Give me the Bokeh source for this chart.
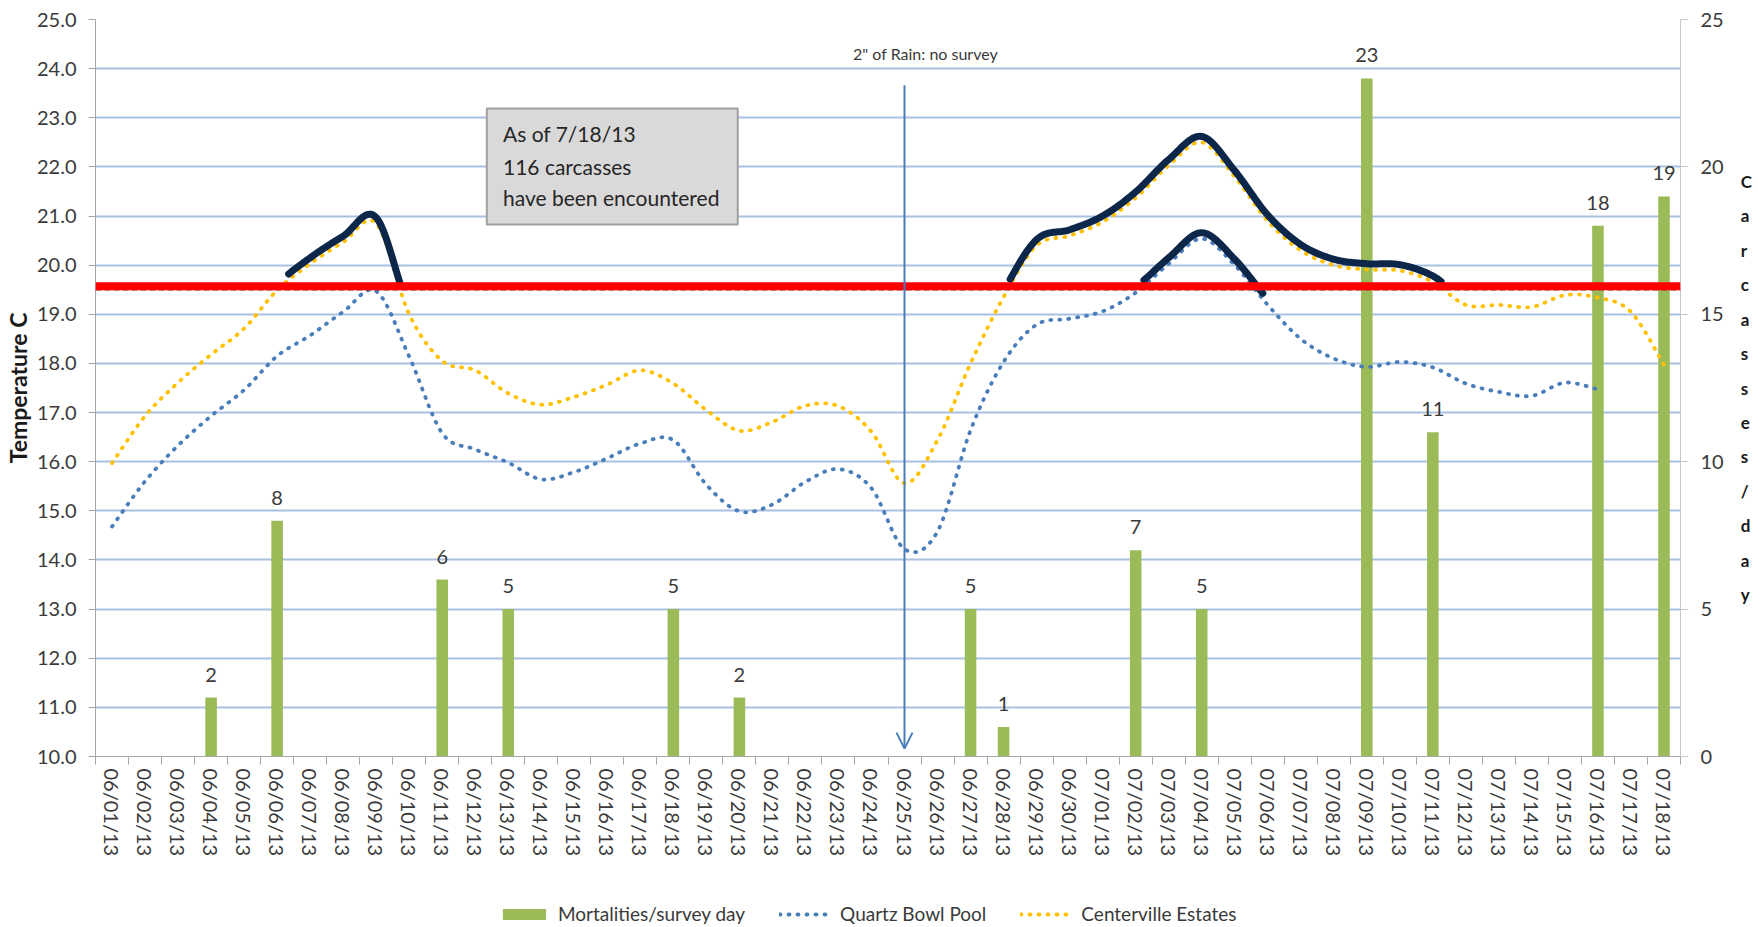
import math
from bokeh.plotting import figure
from bokeh.layouts import column
from bokeh.models import (Range1d, LinearAxis, FixedTicker, NumeralTickFormatter, Span,
                          Arrow, OpenHead, Legend, LegendItem, ColumnDataSource)
from bokeh.core.properties import value
from bokeh.embed import file_html
from bokeh.resources import INLINE

# ---- data -------------------------------------------------------------
dates = [
    "06/01/13", "06/02/13", "06/03/13", "06/04/13", "06/05/13", "06/06/13", "06/07/13", "06/08/13",
    "06/09/13", "06/10/13", "06/11/13", "06/12/13", "06/13/13", "06/14/13", "06/15/13", "06/16/13",
    "06/17/13", "06/18/13", "06/19/13", "06/20/13", "06/21/13", "06/22/13", "06/23/13", "06/24/13",
    "06/25/13", "06/26/13", "06/27/13", "06/28/13", "06/29/13", "06/30/13", "07/01/13", "07/02/13",
    "07/03/13", "07/04/13", "07/05/13", "07/06/13", "07/07/13", "07/08/13", "07/09/13", "07/10/13",
    "07/11/13", "07/12/13", "07/13/13", "07/14/13", "07/15/13", "07/16/13", "07/17/13", "07/18/13",
]

quartz_bowl_pool = [
    14.68, 15.60, 16.33, 16.93, 17.46, 18.15, 18.57, 19.05,
    19.47, 18.14, 16.58, 16.25, 15.98, 15.64, 15.79, 16.07,
    16.37, 16.44, 15.53, 14.99, 15.13, 15.59, 15.85, 15.46,
    14.22, 14.58, 16.64, 18.03, 18.79, 18.91, 19.06, 19.44,
    20.03, 20.54, 20.00, 19.19, 18.50, 18.10, 17.93, 18.03,
    17.92, 17.59, 17.42, 17.34, 17.61, 17.47, None, None,
]

centerville_estates = [
    15.97, 16.93, 17.61, 18.18, 18.71, 19.49, 20.03, 20.47,
    20.85, 19.00, 18.05, 17.86, 17.39, 17.16, 17.32, 17.57,
    17.86, 17.59, 17.05, 16.63, 16.81, 17.14, 17.13, 16.61,
    15.56, 16.44, 18.00, 19.35, 20.40, 20.60, 20.88, 21.37,
    22.03, 22.50, 21.80, 20.90, 20.30, 20.00, 19.91, 19.89,
    19.66, 19.19, 19.19, 19.15, 19.39, 19.34, 19.05, 17.97,
]

mortalities = [
    None, None, None, 2, None, 8, None, None,
    None, None, 6, None, 5, None, None, None,
    None, 5, None, 2, None, None, None, None,
    None, None, 5, 1, None, None, None, 7,
    None, 5, None, None, None, None, 23, None,
    11, None, None, None, None, 18, None, 19,
]

temp_ticks = [10.0, 11.0, 12.0, 13.0, 14.0, 15.0, 16.0, 17.0, 18.0, 19.0,
              20.0, 21.0, 22.0, 23.0, 24.0, 25.0]
count_ticks = [0, 5, 10, 15, 20, 25]

rain_day = "06/25/13"
rain_note = '2" of Rain: no survey'
note_lines = ["As of 7/18/13", "116 carcasses", "have been encountered"]
threshold_c = 19.5
marker_line_c = 19.57

# stretches of each series traced over with a heavy hand-drawn stroke (day index from/to)
highlight_spans = [
    ("centerville", 5.3, 8.75),
    ("centerville", 27.2, 40.25),
    ("quartz", 31.25, 34.9),
]

# ---- styling ----------------------------------------------------------
FONT = "Lato"
TXT = "#3a3a3a"
BLUE = "#4a7ebb"
GOLD = "#ffc000"
GREEN = "#9bbb59"
NAVY = "#0c2749"
GRID = "#a9c1e1"
AXIS = "#a6a6a6"
W = 1758
MAIN_H = 880
LEGEND_H = 47


def smooth_curve(xs, ys, steps=20):
    """Piecewise cubic Bezier through the points (Catmull-Rom style smoothing)."""
    n = len(xs)
    px, py = [], []
    for i in range(n - 1):
        x0, y0 = (xs[i - 1], ys[i - 1]) if i > 0 else (xs[i], ys[i])
        x1, y1 = xs[i], ys[i]
        x2, y2 = xs[i + 1], ys[i + 1]
        x3, y3 = (xs[i + 2], ys[i + 2]) if i + 2 < n else (x2, y2)
        c1x, c1y = x1 + (x2 - x0) / 6.0, y1 + (y2 - y0) / 6.0
        c2x, c2y = x2 - (x3 - x1) / 6.0, y2 - (y3 - y1) / 6.0
        last = steps + 1 if i == n - 2 else steps
        for k in range(last):
            t = k / steps
            a, b, c, d = (1 - t) ** 3, 3 * (1 - t) ** 2 * t, 3 * (1 - t) * t ** 2, t ** 3
            px.append(a * x1 + b * c1x + c * c2x + d * x2)
            py.append(a * y1 + b * c1y + c * c2y + d * y2)
    return px, py


def series_points(vals):
    xs = [i + 0.5 for i, v in enumerate(vals) if v is not None]
    ys = [v for v in vals if v is not None]
    return xs, ys


n_days = len(dates)
centers = [i + 0.5 for i in range(n_days)]

p = figure(
    width=W, height=MAIN_H,
    x_range=Range1d(0, n_days), y_range=Range1d(temp_ticks[0], temp_ticks[-1]),
    output_backend="svg", toolbar_location=None,
    min_border_left=94, min_border_right=78, min_border_top=19, min_border_bottom=124,
    background_fill_color="white", border_fill_color="white",
)
p.outline_line_color = None
p.extra_y_ranges = {"count": Range1d(count_ticks[0], count_ticks[-1])}

# grid
p.xgrid.visible = False
p.ygrid.ticker = FixedTicker(ticks=temp_ticks)
p.ygrid.grid_line_color = GRID
p.ygrid.grid_line_width = 2

# left temperature axis
ya = p.yaxis[0]
ya.ticker = FixedTicker(ticks=temp_ticks)
ya.formatter = NumeralTickFormatter(format="0.0")
ya.axis_label = "Temperature C"
ya.axis_label_text_font = FONT
ya.axis_label_text_font_style = "bold"
ya.axis_label_text_font_size = "23px"
ya.axis_label_text_color = "#1a1a1a"
ya.axis_label_standoff = 2
ya.major_label_text_font = FONT
ya.major_label_text_font_size = "20px"
ya.major_label_text_color = TXT
ya.major_label_standoff = 12
ya.major_tick_out = 7
ya.major_tick_in = 0
ya.minor_tick_out = 0
ya.minor_tick_in = 0
ya.axis_line_color = AXIS
ya.major_tick_line_color = AXIS

# right carcass axis, title stacked letter by letter
ra = LinearAxis(y_range_name="count")
ra.ticker = FixedTicker(ticks=count_ticks)
ra.axis_label = "\n".join("Carcasses/day")
ra.axis_label_orientation = "horizontal"
ra.axis_label_text_font = FONT
ra.axis_label_text_font_style = "bold"
ra.axis_label_text_font_size = "17px"
ra.axis_label_text_color = "#1a1a1a"
ra.axis_label_text_line_height = 1.64
ra.axis_label_standoff = 14
ra.major_label_text_font = FONT
ra.major_label_text_font_size = "20px"
ra.major_label_text_color = TXT
ra.major_label_standoff = 12
ra.major_tick_out = 8
ra.major_tick_in = 0
ra.minor_tick_out = 0
ra.minor_tick_in = 0
ra.axis_line_color = "#c8c8c8"
ra.major_tick_line_color = "#c8c8c8"
p.add_layout(ra, "right")

# date axis: labels at day centres, tick marks between days
xa = p.xaxis[0]
xa.ticker = FixedTicker(ticks=centers, minor_ticks=list(range(n_days + 1)))
xa.major_label_overrides = {c: d for c, d in zip(centers, dates)}
xa.major_label_orientation = -math.pi / 2
xa.major_label_text_font = FONT
xa.major_label_text_font_size = "20px"
xa.major_label_text_color = TXT
xa.major_label_standoff = 4
xa.major_tick_out = 0
xa.major_tick_in = 0
xa.minor_tick_out = 8
xa.minor_tick_in = 0
xa.axis_line_color = AXIS
xa.minor_tick_line_color = AXIS

# mortality bars
bar_x = [i + 0.5 for i, m in enumerate(mortalities) if m is not None]
bar_top = [m for m in mortalities if m is not None]
bar_src = ColumnDataSource(dict(x=bar_x, top=bar_top, label=[str(m) for m in bar_top]))
p.vbar(x="x", top="top", bottom=0, width=0.35, source=bar_src,
       y_range_name="count", fill_color=GREEN, line_color=None)
p.text(x="x", y="top", text="label", source=bar_src, y_range_name="count",
       text_align="center", text_baseline="middle", y_offset=-23,
       text_font=value(FONT), text_font_size="20px", text_color=TXT)

# threshold lines
p.add_layout(Span(location=threshold_c, dimension="width", line_color="#8a5a5a",
                  line_width=2, line_dash="6 3", line_alpha=0.8))

# smoothed temperature series
qx, qy = smooth_curve(*series_points(quartz_bowl_pool))
cx, cy = smooth_curve(*series_points(centerville_estates))
p.line(qx, qy, line_color=BLUE, line_width=3.8, line_dash="1 8", line_cap="round")
p.line(cx, cy, line_color=GOLD, line_width=3.8, line_dash="1 8", line_cap="round")

p.add_layout(Span(location=marker_line_c, dimension="width", line_color="#ff0000", line_width=8))

# heavy strokes tracing the warm stretches
curves = {"centerville": (cx, cy), "quartz": (qx, qy)}
for name, t0, t1 in highlight_spans:
    sx, sy = curves[name]
    hx = [x for x in sx if t0 + 0.5 <= x <= t1 + 0.5]
    hy = [y + 0.12 for x, y in zip(sx, sy) if t0 + 0.5 <= x <= t1 + 0.5]
    p.line(hx, hy, line_color=NAVY, line_width=7, line_cap="round", line_join="round")

# rain marker
rain_x = dates.index(rain_day) + 0.5
p.add_layout(Arrow(x_start=rain_x, y_start=23.66, x_end=rain_x, y_end=10.16,
                   line_color=BLUE, line_width=2,
                   end=OpenHead(size=16, line_color=BLUE, line_width=2)))
p.text(x=[rain_x], y=[24.31], text=[rain_note], x_offset=21,
       text_align="center", text_baseline="middle",
       text_font=value(FONT), text_font_size="16px", text_color=TXT)

# summary note box
p.quad(left=[11.85], right=[19.45], top=[23.19], bottom=[20.83],
       fill_color="#d9d9d9", line_color="#a0a0a0", line_width=2)
p.text(x=[12.34] * 3, y=[22.68, 22.01, 21.38], text=note_lines,
       text_align="left", text_baseline="middle",
       text_font=value(FONT), text_font_size="21px", text_color="#262626")

# legend strip underneath the chart (its key glyphs sit outside the visible range)
lg = figure(width=W, height=LEGEND_H, x_range=Range1d(0, 1), y_range=Range1d(0, 1),
            x_axis_location=None, y_axis_location=None,
            output_backend="svg", toolbar_location=None, min_border=0,
            min_border_left=0, min_border_right=0, min_border_top=0, min_border_bottom=0,
            background_fill_color="white", border_fill_color="white")
lg.outline_line_color = None
lg.grid.visible = False
k_bar = lg.vbar(x=[-5], top=[-4], bottom=[-5], width=0.1, fill_color=GREEN, line_color=None)
k_q = lg.line(x=[-5, -4], y=[-5, -5], line_color=BLUE, line_width=3.8,
              line_dash="1 8", line_cap="round")
k_c = lg.line(x=[-5, -4], y=[-5, -5], line_color=GOLD, line_width=3.8,
              line_dash="1 8", line_cap="round")
legend = Legend(
    items=[LegendItem(label="Mortalities/survey day", renderers=[k_bar]),
           LegendItem(label="Quartz Bowl Pool", renderers=[k_q]),
           LegendItem(label="Centerville Estates", renderers=[k_c])],
    orientation="horizontal", location=(402, 2),
    glyph_width=54, glyph_height=14, label_standoff=7, spacing=34,
    label_text_font=FONT, label_text_font_size="19px", label_text_color=TXT,
    border_line_color=None, background_fill_alpha=0, padding=0, margin=0,
)
lg.add_layout(legend, "center")

open("out.html", "w").write(file_html(column(p, lg, spacing=0), INLINE))
